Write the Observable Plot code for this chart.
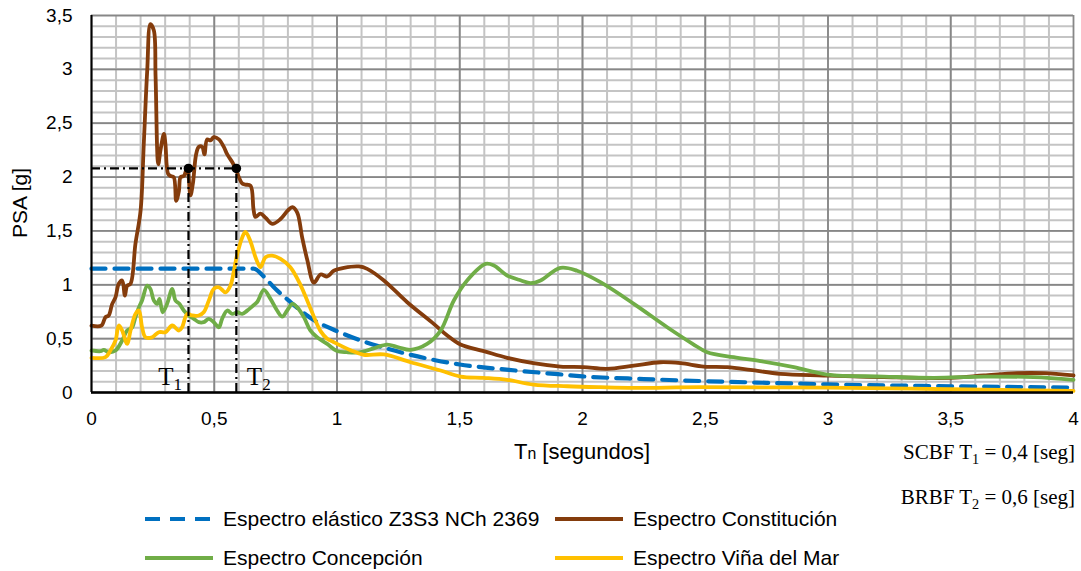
<!DOCTYPE html>
<html><head><meta charset="utf-8">
<script src="https://cdn.jsdelivr.net/npm/d3@7"></script>
<script src="https://cdn.jsdelivr.net/npm/@observablehq/plot@0.6"></script>
<style>
body{margin:0;background:#fff;}
#wrap{position:relative;width:1081px;height:571px;font-family:'Liberation Sans',Arial,sans-serif;color:#000;overflow:hidden;}
.abs{position:absolute;white-space:nowrap;line-height:24px;}
.sub{font-size:0.68em;position:relative;top:0.35em;}
</style></head><body><div id="wrap"></div>
<script>
// ---------- tick values / labels ----------
const xTicks = [0, 0.5, 1, 1.5, 2, 2.5, 3, 3.5, 4];
const xTickLabels = ["0", "0,5", "1", "1,5", "2", "2,5", "3", "3,5", "4"];
const yTicks = [0, 0.5, 1, 1.5, 2, 2.5, 3, 3.5];
const yTickLabels = ["0", "0,5", "1", "1,5", "2", "2,5", "3", "3,5"];
const xMinor = d3.range(1, 40).map(i => i / 10);
const yMinor = d3.range(1, 35).map(i => i / 10);

// ---------- series ----------
const seriesNames = ["Espectro elástico Z3S3 NCh 2369", "Espectro Constitución", "Espectro Concepción", "Espectro Viña del Mar"];

const elasticT = [0, 0.66, 0.7, 0.75, 0.8, 0.9, 1.0, 1.1, 1.2, 1.3, 1.4, 1.5, 1.7, 1.9, 2.0, 2.25, 2.5, 2.75, 3.0, 3.5, 4.0];
const elasticPSA = [1.15, 1.15, 1.08, 0.96, 0.86, 0.68, 0.57, 0.48, 0.41, 0.35, 0.30, 0.26, 0.21, 0.17, 0.15, 0.125, 0.105, 0.09, 0.075, 0.058, 0.045];

const constT = [0, 0.04, 0.057, 0.07, 0.084, 0.098, 0.111, 0.125, 0.136, 0.145, 0.159, 0.179, 0.2, 0.213, 0.227, 0.24, 0.254, 0.261, 0.272, 0.281, 0.295, 0.301, 0.312, 0.322, 0.335, 0.345, 0.356, 0.363, 0.376, 0.39, 0.403, 0.413, 0.426, 0.437, 0.451, 0.46, 0.471, 0.485, 0.498, 0.519, 0.539, 0.553, 0.573, 0.587, 0.6, 0.614, 0.627, 0.648, 0.66, 0.668, 0.688, 0.71, 0.736, 0.77, 0.8, 0.818, 0.838, 0.858, 0.879, 0.906, 0.933, 0.96, 0.987, 1.028, 1.089, 1.123, 1.191, 1.286, 1.394, 1.449, 1.503, 1.598, 1.693, 1.8, 1.91, 2.005, 2.1, 2.209, 2.318, 2.4, 2.494, 2.589, 2.684, 2.806, 2.983, 3.227, 3.499, 3.635, 3.77, 3.879, 4.0];
const constPSA = [0.62, 0.62, 0.70, 0.715, 0.82, 0.885, 1.01, 1.04, 0.90, 0.99, 1.01, 1.38, 1.69, 2.31, 2.99, 3.42, 3.36, 2.93, 2.12, 2.25, 2.40, 2.31, 2.03, 2.01, 2.0, 1.78, 1.87, 2.0, 2.01, 2.09, 1.83, 1.94, 2.21, 2.28, 2.28, 2.21, 2.35, 2.34, 2.37, 2.35, 2.28, 2.21, 2.14, 2.08, 2.0, 1.94, 1.93, 1.92, 1.70, 1.63, 1.66, 1.62, 1.565, 1.61, 1.69, 1.72, 1.67, 1.44, 1.23, 1.02, 1.095, 1.077, 1.13, 1.157, 1.17, 1.148, 1.04, 0.838, 0.637, 0.529, 0.445, 0.384, 0.322, 0.272, 0.241, 0.235, 0.22, 0.25, 0.281, 0.272, 0.241, 0.235, 0.21, 0.173, 0.158, 0.142, 0.136, 0.158, 0.179, 0.179, 0.158];

const concT = [0, 0.037, 0.05, 0.07, 0.098, 0.125, 0.145, 0.166, 0.179, 0.193, 0.206, 0.227, 0.24, 0.254, 0.268, 0.277, 0.29, 0.308, 0.329, 0.342, 0.358, 0.376, 0.396, 0.417, 0.437, 0.457, 0.478, 0.498, 0.519, 0.532, 0.553, 0.573, 0.594, 0.614, 0.634, 0.655, 0.675, 0.702, 0.729, 0.756, 0.777, 0.797, 0.818, 0.838, 0.865, 0.892, 0.919, 0.96, 1.0, 1.04, 1.096, 1.15, 1.204, 1.25, 1.3, 1.367, 1.422, 1.476, 1.53, 1.605, 1.639, 1.693, 1.75, 1.788, 1.829, 1.91, 1.978, 2.073, 2.209, 2.345, 2.45, 2.508, 2.616, 2.725, 2.861, 2.997, 3.227, 3.431, 3.635, 3.838, 4.0];
const concPSA = [0.39, 0.383, 0.396, 0.374, 0.39, 0.483, 0.575, 0.606, 0.70, 0.79, 0.854, 0.993, 0.962, 0.854, 0.823, 0.869, 0.745, 0.823, 0.962, 0.854, 0.823, 0.761, 0.715, 0.684, 0.653, 0.653, 0.684, 0.653, 0.606, 0.684, 0.761, 0.73, 0.745, 0.73, 0.76, 0.80, 0.84, 0.953, 0.869, 0.761, 0.705, 0.761, 0.823, 0.79, 0.70, 0.575, 0.513, 0.451, 0.385, 0.374, 0.374, 0.41, 0.445, 0.42, 0.396, 0.451, 0.575, 0.854, 1.04, 1.194, 1.179, 1.086, 1.04, 1.015, 1.04, 1.157, 1.13, 1.024, 0.823, 0.606, 0.45, 0.374, 0.328, 0.291, 0.235, 0.167, 0.148, 0.136, 0.148, 0.142, 0.118];

const vinaT = [0, 0.057, 0.077, 0.098, 0.111, 0.125, 0.145, 0.159, 0.179, 0.193, 0.206, 0.22, 0.247, 0.274, 0.301, 0.329, 0.356, 0.369, 0.39, 0.41, 0.437, 0.457, 0.478, 0.498, 0.519, 0.546, 0.566, 0.58, 0.594, 0.614, 0.627, 0.648, 0.668, 0.688, 0.709, 0.736, 0.77, 0.81, 0.851, 0.892, 0.933, 0.96, 0.987, 1.055, 1.109, 1.191, 1.3, 1.422, 1.503, 1.598, 1.693, 1.8, 1.938, 2.073, 2.209, 2.48, 3.0, 3.5, 4.0];
const vinaPSA = [0.322, 0.328, 0.39, 0.483, 0.622, 0.575, 0.452, 0.575, 0.73, 0.761, 0.606, 0.513, 0.513, 0.56, 0.56, 0.622, 0.575, 0.606, 0.73, 0.715, 0.715, 0.745, 0.854, 0.962, 0.977, 0.93, 0.993, 1.13, 1.287, 1.44, 1.49, 1.40, 1.256, 1.163, 1.256, 1.27, 1.24, 1.163, 1.0, 0.78, 0.57, 0.50, 0.467, 0.393, 0.35, 0.353, 0.281, 0.204, 0.148, 0.136, 0.118, 0.074, 0.058, 0.049, 0.043, 0.049, 0.045, 0.03, 0.015];

// design periods (markers)
const markerT = [0.395, 0.59];
const markerPSA = [2.08, 2.08];
const markerLabels = ["1", "2"];

// ---------- build tables ----------
const toRows = (T, P) => T.map((t, i) => ({t, psa: P[i]}));
const elastic = toRows(elasticT, elasticPSA);
const constitucion = toRows(constT, constPSA);
const concepcion = toRows(concT, concPSA);
const vina = toRows(vinaT, vinaPSA);
const markers = toRows(markerT, markerPSA);

const colors = ["#0070C0", "#843C0C", "#70AD47", "#FFC000"];
const xLab = new Map(xTicks.map((v, i) => [v, xTickLabels[i]]));
const yLab = new Map(yTicks.map((v, i) => [v, yTickLabels[i]]));

const lineOpts = (c) => ({x: "t", y: "psa", stroke: c, strokeWidth: 3.8, curve: "catmull-rom", strokeLinejoin: "round", strokeLinecap: "round"});

const chart = Plot.plot({
  width: 1081, height: 440,
  marginLeft: 91, marginRight: 8, marginTop: 15, marginBottom: 48,
  x: {domain: [0, 4]},
  y: {domain: [0, 3.5]},
  style: {fontFamily: "'Liberation Sans', Arial, sans-serif", fontSize: "19px", color: "#000", background: "#fff", overflow: "visible"},
  marks: [
    Plot.ruleX(xMinor, {stroke: "#c4c4c4", strokeWidth: 2}),
    Plot.ruleY(yMinor, {stroke: "#c4c4c4", strokeWidth: 2}),
    Plot.ruleX(xTicks, {stroke: "#878787", strokeWidth: 1.8}),
    Plot.ruleY(yTicks, {stroke: "#878787", strokeWidth: 1.8}),
    Plot.line(elastic, {x: "t", y: "psa", stroke: colors[0], strokeWidth: 4.2, strokeDasharray: "14,9", curve: "monotone-x"}),
    Plot.line(constitucion, lineOpts(colors[1])),
    Plot.line(concepcion, lineOpts(colors[2])),
    Plot.line(vina, lineOpts(colors[3])),
    Plot.ruleY(markers.slice(1), {y: "psa", x1: 0, x2: "t", stroke: "#000", strokeWidth: 2.2, strokeDasharray: "9,4,2,4"}),
    Plot.ruleX(markers, {x: "t", y1: 0, y2: "psa", stroke: "#000", strokeWidth: 2.2, strokeDasharray: "9,4,2,4"}),
    Plot.dot(markers, {x: "t", y: "psa", r: 4.8, fill: "#000", stroke: "none"}),
    Plot.axisX({ticks: xTicks, tickSize: 0, tickPadding: 19, tickFormat: d => xLab.get(d), label: null}),
    Plot.axisY({ticks: yTicks, tickSize: 0, tickPadding: 19, tickFormat: d => yLab.get(d), label: null}),
    Plot.ruleX([0], {stroke: "#000", strokeWidth: 2}),
    Plot.ruleY([0], {stroke: "#000", strokeWidth: 2.4})
  ]
});

const wrap = document.getElementById("wrap");
chart.style.position = "absolute";
chart.style.left = "0px";
chart.style.top = "0px";
wrap.appendChild(chart);

// T1 / T2 labels placed through the plot's own scales
const sx = chart.scale("x"), sy = chart.scale("y");
const svg = d3.select(chart);
markers.forEach((m, i) => {
  const x0 = sx.apply(m.t);
  const yb = sy.apply(0) - 7;
  const t = svg.append("text")
    .attr("x", i === 0 ? x0 - 6 : x0 + 11)
    .attr("y", yb)
    .attr("text-anchor", i === 0 ? "end" : "start")
    .attr("font-family", "'Liberation Serif','Times New Roman',serif")
    .attr("font-size", 25)
    .attr("fill", "#000");
  t.append("tspan").text("T");
  t.append("tspan").attr("font-size", 17).attr("dy", 5).text(markerLabels[i]);
});

// axis titles, legend, notes (HTML around the SVG)
function addDiv(html, css) {
  const d = document.createElement("div");
  d.className = "abs";
  d.innerHTML = html;
  Object.assign(d.style, css);
  wrap.appendChild(d);
  return d;
}
addDiv("PSA [g]", {left: "20px", top: "203px", fontSize: "21px", transform: "translate(-50%,-50%) rotate(-90deg)"});
addDiv('T<span style="font-size:0.72em">n</span> [segundos]', {left: "582px", top: "453px", fontSize: "22px", transform: "translate(-50%,-50%)"});

addDiv('SCBF T<span class="sub">1</span> = 0,4 [seg]', {right: "6px", top: "440px", fontSize: "21px", fontFamily: "'Liberation Serif','Times New Roman',serif"});
addDiv('BRBF T<span class="sub">2</span> = 0,6 [seg]', {right: "6px", top: "485px", fontSize: "21px", fontFamily: "'Liberation Serif','Times New Roman',serif"});

const legendPos = [[143, 519], [553, 519], [143, 558], [553, 558]];
seriesNames.forEach((name, i) => {
  const [lx, ly] = legendPos[i];
  const dash = i === 0 ? 'stroke-dasharray="15,10"' : "";
  addDiv(`<svg width="72" height="10" style="display:block"><line x1="2" x2="70" y1="5" y2="5" stroke="${colors[i]}" stroke-width="${i === 0 ? 4 : 3.8}" ${dash}/></svg>`,
    {left: lx + "px", top: (ly - 5) + "px", lineHeight: "10px"});
  addDiv(name, {left: (lx + 80) + "px", top: (ly - 12) + "px", fontSize: "21px"});
});
</script></body></html>
